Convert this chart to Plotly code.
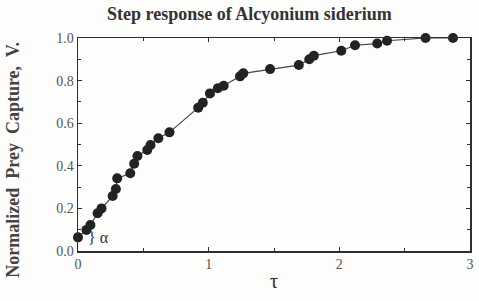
import plotly.graph_objects as go

tau = [0.0, 0.065, 0.095, 0.15, 0.18, 0.265, 0.29, 0.30, 0.40, 0.43, 0.455, 0.53, 0.555,
       0.615, 0.70, 0.92, 0.955, 1.01, 1.07, 1.115, 1.24, 1.265, 1.47, 1.69, 1.77, 1.805,
       2.015, 2.12, 2.29, 2.365, 2.66, 2.87]
v = [0.064, 0.099, 0.122, 0.177, 0.20, 0.258, 0.291, 0.341, 0.365, 0.41, 0.446, 0.474, 0.498,
     0.529, 0.557, 0.673, 0.696, 0.74, 0.764, 0.776, 0.82, 0.834, 0.854, 0.873, 0.90, 0.917,
     0.94, 0.966, 0.974, 0.987, 1.0, 1.0]

x_ticks = [0, 1, 2, 3]
x_labels = ["0", "1", "2", "3"]
y_ticks = [0.0, 0.2, 0.4, 0.6, 0.8, 1.0]
y_labels = ["0.0", "0.2", "0.4", "0.6", "0.8", "1.0"]

title_text = "Step response of Alcyonium siderium"
y_title = "Normalized  Prey  Capture,  V."
x_title = "τ"

serif = "Liberation Serif, Times New Roman, serif"
axis_col = "#2e2e2e"

fig = go.Figure()
fig.add_trace(go.Scatter(
    x=tau, y=v, mode="lines+markers",
    line=dict(color="#444444", width=1.2),
    marker=dict(color="#222222", size=10),
    cliponaxis=False, showlegend=False, hoverinfo="skip",
))

fig.add_annotation(x=0.06, y=0.065, xref="x", yref="y", text="} α", showarrow=False,
                   xanchor="left", yanchor="middle",
                   font=dict(family=serif, size=16, color="#333333"))

fig.add_annotation(x=-0.165, y=0.43, xref="paper", yref="paper", text=y_title,
                   textangle=-90, showarrow=False, xanchor="center", yanchor="middle",
                   font=dict(family=serif, size=18, color="#444444", weight="bold"))

fig.add_annotation(x=0.437, y=1.115, xref="paper", yref="paper", text=title_text,
                   showarrow=False, xanchor="center", yanchor="middle",
                   font=dict(family=serif, size=18, color="#333333", weight="bold"))

common = dict(showline=True, linecolor=axis_col, linewidth=1.5, mirror="ticks",
              ticks="inside", ticklen=4, tickwidth=1, tickcolor=axis_col,
              showgrid=False, zeroline=False, ticklabeloverflow="allow",
              tickfont=dict(family=serif, size=14, color="#555555"))

fig.update_xaxes(range=[0, 3], tickvals=x_ticks, ticktext=x_labels,
                 minor=dict(dtick=0.5, ticks="inside", ticklen=3, tickcolor=axis_col),
                 title=dict(text=x_title, font=dict(family=serif, size=21, color="#333333"),
                            standoff=2),
                 **common)
fig.update_yaxes(range=[0, 1], tickvals=y_ticks, ticktext=y_labels,
                 minor=dict(dtick=0.1, ticks="inside", ticklen=3, tickcolor=axis_col),
                 **common)

fig.update_layout(
    width=479, height=301,
    margin=dict(l=78, r=5, t=38, b=50),
    paper_bgcolor="#fdfdfb", plot_bgcolor="#fdfdfb",
    hovermode=False,
)

fig.write_html("out.html", config={"displayModeBar": False, "staticPlot": True},
               post_script="document.body.style.margin='0';document.body.style.padding='0';")
